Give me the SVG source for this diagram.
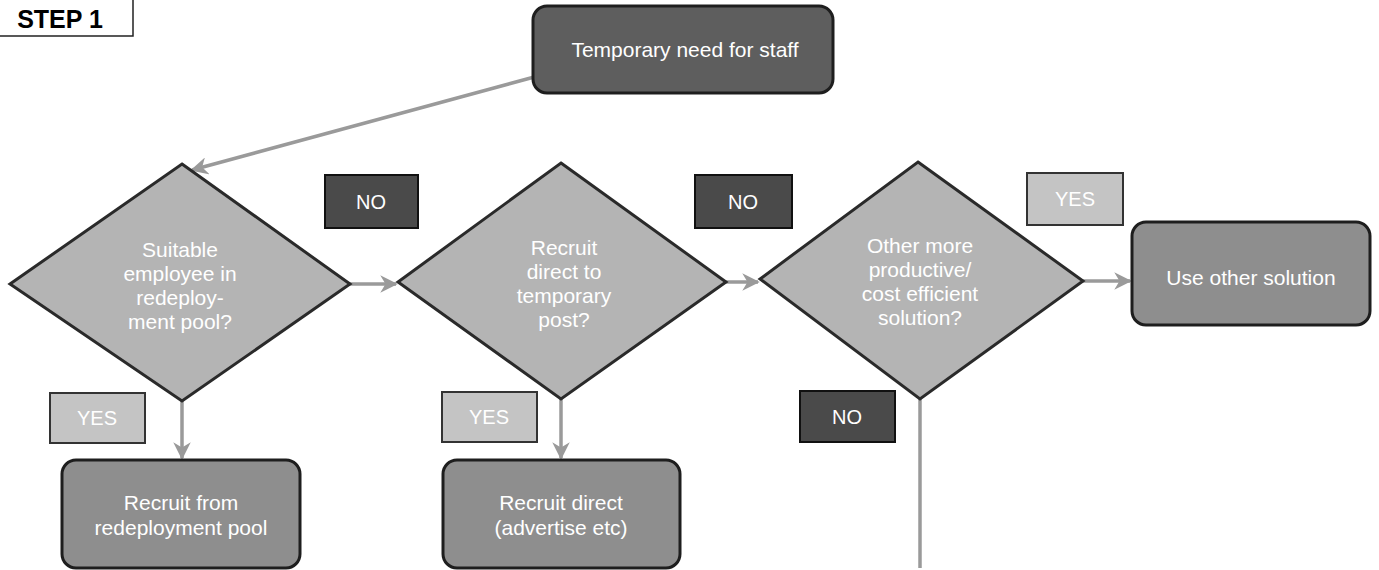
<svg xmlns="http://www.w3.org/2000/svg" width="1379" height="570" viewBox="0 0 1379 570">
<defs>
<marker id="arr" viewBox="0 0 10 10" refX="9" refY="5" markerWidth="5" markerHeight="5" orient="auto" markerUnits="strokeWidth">
<path d="M0,0 L10,5 L0,10 L3,5 Z" fill="#9a9a9a"/>
</marker>
<style>
.t{font-family:"Liberation Sans",Arial,sans-serif;fill:#ffffff;text-anchor:middle;font-size:21px}
.lbl{font-family:"Liberation Sans",Arial,sans-serif;fill:#ffffff;text-anchor:middle;font-size:20px}
.dia{fill:#b4b4b4;stroke:#2a2a2a;stroke-width:3}
.box{fill:#8e8e8e;stroke:#1e1e1e;stroke-width:3}
.no{fill:#4a4a4a;stroke:#111;stroke-width:2}
.yes{fill:#c4c4c4;stroke:#333;stroke-width:2}
.con{stroke:#9a9a9a;stroke-width:3.5;fill:none}
</style>
</defs>
<rect width="1379" height="570" fill="#ffffff"/>
<g id="step1">
<path d="M0,36 L133,36 L133,0" fill="none" stroke="#222" stroke-width="1.5"/>
<text x="60" y="28" font-family="'Liberation Sans',Arial,sans-serif" font-weight="bold" font-size="25" fill="#000" text-anchor="middle">STEP 1</text>
</g>
<g id="connectors">
<line class="con" x1="538" y1="76" x2="192" y2="170" marker-end="url(#arr)"/>
<line class="con" x1="350" y1="284" x2="396" y2="284" marker-end="url(#arr)"/>
<line class="con" x1="726" y1="282" x2="758" y2="282" marker-end="url(#arr)"/>
<line class="con" x1="1083" y1="281" x2="1130" y2="281" marker-end="url(#arr)"/>
<line class="con" x1="182" y1="401" x2="182" y2="458" marker-end="url(#arr)"/>
<line class="con" x1="561" y1="399" x2="561" y2="458" marker-end="url(#arr)"/>
<line class="con" x1="920" y1="399" x2="920" y2="568"/>
</g>
<g id="start">
<rect class="box" x="533" y="6" width="300" height="87" rx="14" style="fill:#5e5e5e"/>
<text class="t" x="685" y="57">Temporary need for staff</text>
</g>
<g id="d1">
<polygon class="dia" points="182,164 350,284 182,401 10,284"/>
<text class="t" x="180" y="257">Suitable</text>
<text class="t" x="180" y="281">employee in</text>
<text class="t" x="180" y="305">redeploy-</text>
<text class="t" x="180" y="329">ment pool?</text>
</g>
<g id="d2">
<polygon class="dia" points="561,163 726,282 561,399 398,282"/>
<text class="t" x="564" y="255">Recruit</text>
<text class="t" x="564" y="279">direct to</text>
<text class="t" x="564" y="303">temporary</text>
<text class="t" x="564" y="327">post?</text>
</g>
<g id="d3">
<polygon class="dia" points="918,162 1083,281 920,399 760,279"/>
<text class="t" x="920" y="253">Other more</text>
<text class="t" x="920" y="277">productive/</text>
<text class="t" x="920" y="301">cost efficient</text>
<text class="t" x="920" y="325">solution?</text>
</g>
<g id="other">
<rect class="box" x="1132" y="222" width="238" height="103" rx="14"/>
<text class="t" x="1251" y="285">Use other solution</text>
</g>
<g id="pool">
<rect class="box" x="62" y="460" width="238" height="108" rx="14"/>
<text class="t" x="181" y="510">Recruit from</text>
<text class="t" x="181" y="535">redeployment pool</text>
</g>
<g id="direct">
<rect class="box" x="443" y="460" width="237" height="108" rx="14"/>
<text class="t" x="561" y="510">Recruit direct</text>
<text class="t" x="561" y="535">(advertise etc)</text>
</g>
<g id="no1">
<rect class="no" x="325" y="175" width="93" height="53"/>
<text class="lbl" x="371" y="209">NO</text>
</g>
<g id="no2">
<rect class="no" x="695" y="175" width="97" height="53"/>
<text class="lbl" x="743" y="209">NO</text>
</g>
<g id="no3">
<rect class="no" x="800" y="391" width="95" height="51"/>
<text class="lbl" x="847" y="424">NO</text>
</g>
<g id="yes1">
<rect class="yes" x="1027" y="173" width="96" height="52"/>
<text class="lbl" x="1075" y="206">YES</text>
</g>
<g id="yes2">
<rect class="yes" x="50" y="393" width="95" height="50"/>
<text class="lbl" x="97" y="425">YES</text>
</g>
<g id="yes3">
<rect class="yes" x="442" y="392" width="95" height="50"/>
<text class="lbl" x="489" y="424">YES</text>
</g>
</svg>
